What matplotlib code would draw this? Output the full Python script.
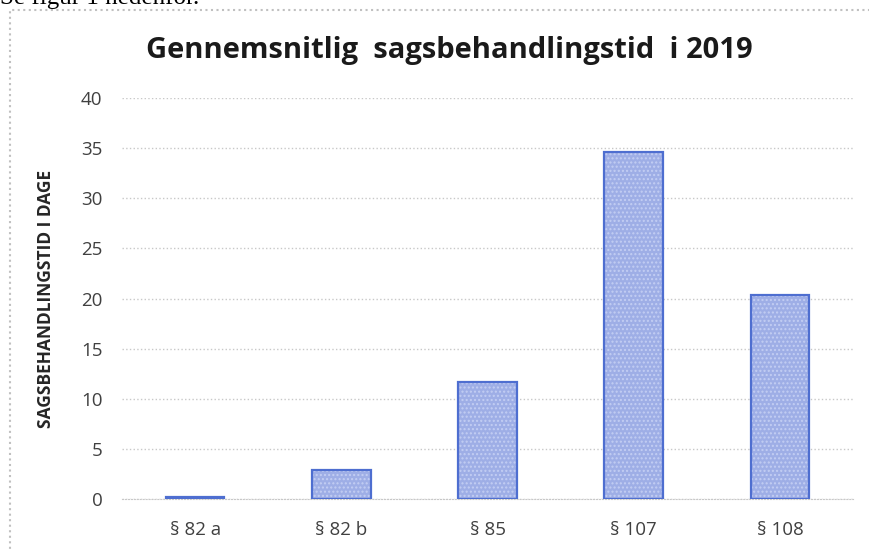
import matplotlib.pyplot as plt
import numpy as np
from matplotlib.patches import Rectangle

categories = ['§ 82 a', '§ 82 b', '§ 85', '§ 107', '§ 108']
days = [0.2, 2.9, 11.7, 34.6, 20.4]
y_ticks = [0, 5, 10, 15, 20, 25, 30, 35, 40]

plt.rcParams['font.family'] = ['Open Sans', 'DejaVu Sans']
plt.rcParams['hatch.linewidth'] = 1.0

fig = plt.figure(figsize=(8.7, 5.5), dpi=100)
ax = fig.add_axes([0.1402, 0.0927, 0.8403, 0.7291])

x = np.arange(len(categories))
# fill with a light dot pattern, then the darker outline on top
ax.bar(x, days, 0.4, color='#9eaee6', edgecolor='#c3cef3', hatch='....',
       linewidth=0, zorder=2)
ax.bar(x, days, 0.4, fill=False, edgecolor='#4e6ed0', linewidth=1.6, zorder=3)

ax.set_xlim(-0.5, len(categories) - 0.5)
ax.set_ylim(0, 40)
ax.set_yticks(y_ticks)
ax.set_xticks(x)
ax.set_xticklabels(categories)
ax.tick_params(axis='both', length=0, labelsize=13.5, labelcolor='#404040')
ax.tick_params(axis='y', pad=14)
ax.tick_params(axis='x', pad=16)
ax.grid(axis='y', color='#c8c8c8', linestyle=':', linewidth=1.0, zorder=0)
for side in ['top', 'right', 'left']:
    ax.spines[side].set_visible(False)
ax.spines['bottom'].set_color('#c8c8c8')
ax.spines['bottom'].set_linestyle(':')

ax.set_ylabel('SAGSBEHANDLINGSTID I DAGE', fontsize=12.5, fontweight='bold',
              color='#262626', labelpad=19)

fig.text(0.516, 0.908, 'Gennemsnitlig  sagsbehandlingstid  i 2019',
         ha='center', va='center', fontsize=21, fontweight='bold', color='#1a1a1a')

# page text and frame around the embedded chart
fig.text(0.0, 1 - 4 / 550, 'Se figur 1 nedenfor.', ha='left', va='baseline',
         fontsize=18, family='Liberation Serif', color='black')
fig.patches.append(Rectangle((10 / 870, -0.05), 1.1, 1 - 10 / 550 + 0.05,
                             transform=fig.transFigure, fill=False,
                             edgecolor='#c0c0c0', linestyle=':', linewidth=1.5))

fig.savefig('out.png', dpi=100)
